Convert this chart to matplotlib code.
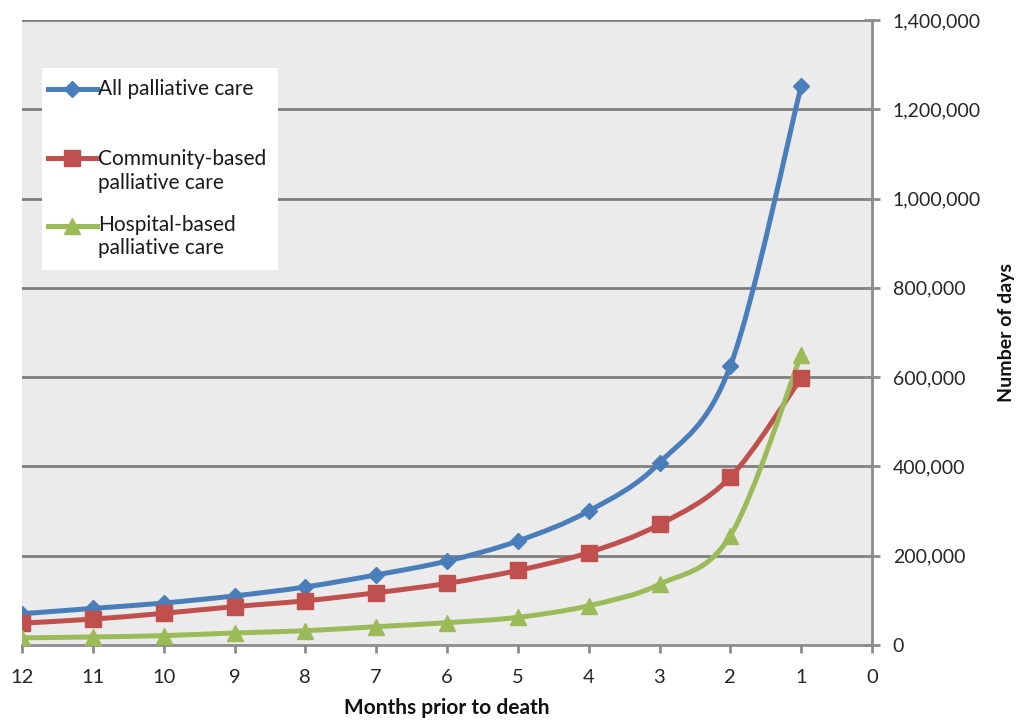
import matplotlib
matplotlib.use("Agg")
import matplotlib.pyplot as plt
import numpy as np
from matplotlib.path import Path
from matplotlib.patches import PathPatch, Rectangle
from matplotlib.lines import Line2D
from matplotlib.ticker import FuncFormatter

plt.rcParams["font.family"] = ["Lato", "DejaVu Sans"]

months = [12, 11, 10, 9, 8, 7, 6, 5, 4, 3, 2, 1]
all_care = [70000, 82000, 94000, 110000, 130000, 157000, 188000, 233000, 300000, 408000, 625000, 1252000]
community_care = [49000, 58000, 71000, 86000, 99000, 117000, 138000, 167000, 207000, 270000, 376000, 598000]
hospital_care = [16000, 18000, 21000, 27000, 32000, 41000, 50000, 62000, 88000, 136000, 245000, 650000]

series_labels = ["All palliative care", "Community-based\npalliative care", "Hospital-based\npalliative care"]
series_colors = ["#4a7ebb", "#c0504d", "#9bbb59"]
series_markers = ["D", "s", "^"]
marker_sizes = [8, 11, 11]

y_ticks = [0, 200000, 400000, 600000, 800000, 1000000, 1200000, 1400000]
x_ticks = [12, 11, 10, 9, 8, 7, 6, 5, 4, 3, 2, 1, 0]


def smooth_path(xs, ys):
    """Cubic Bezier path through the points (spreadsheet-style smoothing)."""
    pts = np.column_stack([xs, ys]).astype(float)
    n = len(pts)
    verts = [pts[0]]
    codes = [Path.MOVETO]
    for i in range(n - 1):
        p_prev = pts[i - 1] if i > 0 else pts[i]
        p0 = pts[i]
        p1 = pts[i + 1]
        p_next = pts[i + 2] if i + 2 < n else pts[i + 1]
        c1 = p0 + (p1 - p_prev) / 6.0
        c2 = p1 - (p_next - p0) / 6.0
        verts += [c1, c2, p1]
        codes += [Path.CURVE4] * 3
    return Path(verts, codes)


fig = plt.figure(figsize=(10.26, 7.21), dpi=100)
ax = fig.add_axes([22 / 1026, 1 - 645 / 721, 850 / 1026, 625 / 721])
ax.set_facecolor("#ebebeb")

ax.set_xlim(12, 0)
ax.set_ylim(0, 1400000)

# horizontal gridlines
for yv in y_ticks[1:]:
    ax.axhline(yv, color="#7f7f7f", lw=2.0, zorder=1)

for vals, col, mk, ms in zip([all_care, community_care, hospital_care],
                             series_colors, series_markers, marker_sizes):
    ax.add_patch(PathPatch(smooth_path(months, vals), fill=False, edgecolor=col,
                           lw=3.6, capstyle="round", joinstyle="round", zorder=3))
    ax.plot(months, vals, linestyle="none", marker=mk, markersize=ms,
            color=col, markeredgecolor=col, zorder=4)

# axes styling
for side in ["left", "top"]:
    ax.spines[side].set_visible(False)
for side in ["bottom", "right"]:
    ax.spines[side].set_color("#8c8c8c")
    ax.spines[side].set_linewidth(2.0)

ax.yaxis.tick_right()
ax.yaxis.set_label_position("right")
ax.set_yticks(y_ticks)
ax.yaxis.set_major_formatter(FuncFormatter(lambda v, p: f"{int(v):,}"))
ax.set_xticks(x_ticks)
ax.set_xticklabels([str(m) for m in x_ticks])
ax.tick_params(axis="both", colors="#8c8c8c", width=2, labelcolor="#262626")
ax.tick_params(axis="y", direction="inout", length=12, pad=9, labelsize=14)
ax.tick_params(axis="x", length=6, pad=11, labelsize=14.5)

ax.set_xlabel("Months prior to death", fontsize=15, fontweight="bold", color="#111111",
              labelpad=9)
ax.set_ylabel("Number of days", fontsize=14, fontweight="bold", color="#111111",
              labelpad=12)

# legend box with keys
ax.add_patch(Rectangle((0.0235, 0.6), 0.2776, 0.323, transform=ax.transAxes,
                       facecolor="white", edgecolor="none", zorder=5))
key_rows = [0.8896, 0.7792, 0.6704]
text_rows = [0.8896, 0.7584, 0.6536]
for row, trow, lab, col, mk, ms in zip(key_rows, text_rows, series_labels,
                                       series_colors, series_markers, marker_sizes):
    ax.add_line(Line2D([0.0306, 0.0882], [row, row], transform=ax.transAxes,
                       color=col, lw=3.6, zorder=6))
    ax.add_line(Line2D([0.0594], [row], transform=ax.transAxes, color=col,
                       marker=mk, markersize=ms, linestyle="none", zorder=7))
    ax.text(0.0894, trow, lab, transform=ax.transAxes, fontsize=15, color="#1a1a1a",
            va="center", ha="left", linespacing=1.2, zorder=8)

fig.savefig("out.png", dpi=100)
